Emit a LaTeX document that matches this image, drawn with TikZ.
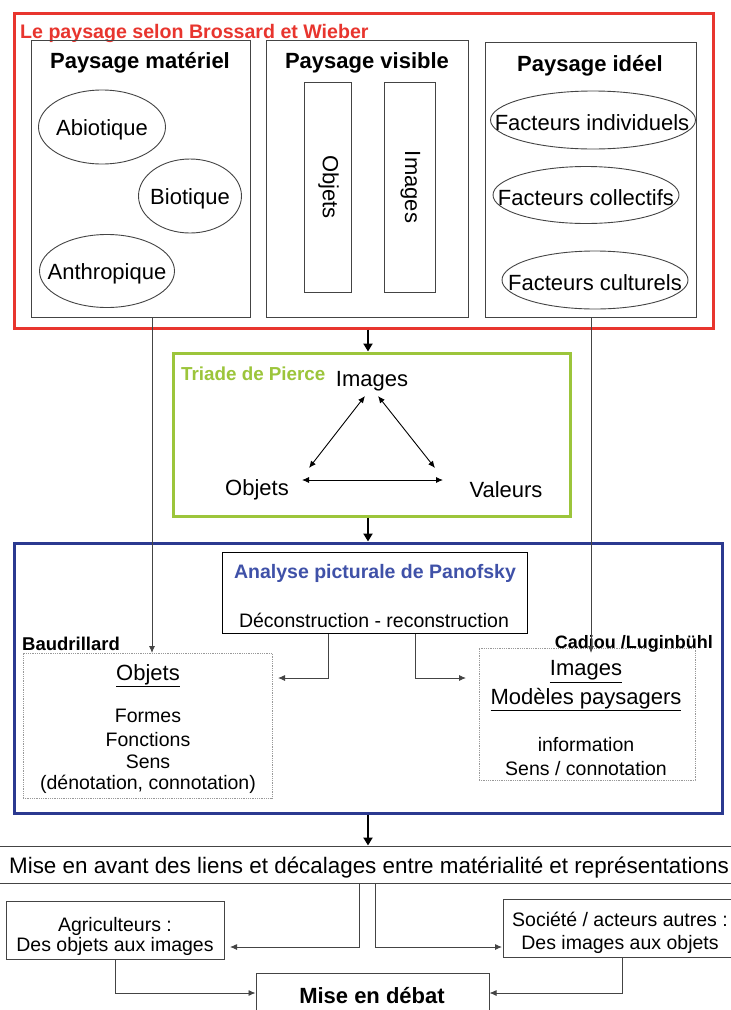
\documentclass[tikz,border=0pt]{standalone}
\usepackage{fontspec}
\setmainfont{Liberation Sans}
\usetikzlibrary{shapes.geometric,arrows.meta}
\definecolor{cred}{HTML}{E8352E}
\definecolor{cgreen}{HTML}{9CC53B}
\definecolor{cblue}{HTML}{2B3990}
\definecolor{ptitle}{HTML}{3F51A8}
\definecolor{cline}{HTML}{444444}
\tikzset{
  fbig/.style={font=\fontsize{22}{24}\selectfont},
  fmid/.style={font=\fontsize{19.5}{22}\selectfont},
  fbold/.style={font=\bfseries\fontsize{22}{24}\selectfont},
  fboldsm/.style={font=\bfseries\fontsize{18.5}{21}\selectfont},
  inbox/.style={draw=cline, line width=1pt, inner sep=0pt},
  ell/.style={ellipse, draw=cline, line width=0.9pt, inner sep=0pt, outer sep=0pt},
  dotbox/.style={draw=gray!80, densely dotted, line width=0.8pt, inner sep=0pt},
  thinarrow/.style={draw=cline, line width=0.9pt, -{Latex[length=7pt,width=6pt]}},
  dblarrow/.style={draw=black, line width=0.9pt, {Latex[length=7pt,width=6pt]}-{Latex[length=7pt,width=6pt]}},
  thickarrow/.style={draw=black, line width=2.6pt, -{Triangle[length=8pt,width=9pt]}},
  txt/.style={inner sep=0pt, text=black, yshift=-2.5pt},
  rtxt/.style={inner sep=0pt, text=black}
}
\begin{document}
\begin{tikzpicture}[x=1pt,y=-1pt]
\useasboundingbox (0,0) rectangle (731,1010);
\clip (0,0) rectangle (731,1010);
\fill[white] (0,0) rectangle (731,1010);

% ---------- Red section ----------
\node[draw=cred, line width=3pt, minimum width=699pt, minimum height=315pt, inner sep=0pt] (red) at (363.5,170.5) {};
\node[txt, anchor=west, font=\bfseries\fontsize{19.6}{22}\selectfont, text=cred] (redtitle) at (20,31) {Le paysage selon Brossard et Wieber};

\node[inbox, minimum width=219pt, minimum height=277pt] (mat) at (140.5,178.5) {};
\node[inbox, minimum width=202pt, minimum height=277pt] (vis) at (367,178.5) {};
\node[inbox, minimum width=211pt, minimum height=275pt] (ide) at (590.5,179.5) {};

\node[txt, fbold] (matt) at (140,60) {Paysage matériel};
\node[txt, fbold] (vist) at (367,60) {Paysage visible};
\node[txt, fbold] (idet) at (590,63) {Paysage idéel};

\node[ell, minimum width=127pt, minimum height=74pt] (abio) at (102,127) {};
\node[ell, minimum width=103pt, minimum height=74pt] (bio) at (190,196) {};
\node[ell, minimum width=135pt, minimum height=73pt] (anth) at (107,271) {};
\node[txt, fbig] (abiot) at (abio) {Abiotique};
\node[txt, fbig] (biot) at (bio) {Biotique};
\node[txt, fbig] (antht) at (anth) {Anthropique};

\node[inbox, minimum width=47pt, minimum height=210pt] (obr) at (327.5,187) {};
\node[inbox, minimum width=51pt, minimum height=210pt] (imr) at (409.5,187) {};
\node[rtxt, fbig, rotate=-90] (obt) at (328.5,187) {Objets};
\node[rtxt, fbig, rotate=-90] (imt) at (410.5,187) {Images};

\node[ell, minimum width=205pt, minimum height=58pt] (find) at (593,120) {};
\node[ell, minimum width=186pt, minimum height=57pt] (fcol) at (586,195) {};
\node[ell, minimum width=186pt, minimum height=58pt] (fcul) at (595,280) {};
\node[txt, fbig] (findt) at (592,120) {Facteurs individuels};
\node[txt, fbig] (fcolt) at (586,195) {Facteurs collectifs};
\node[txt, fbig] (fcult) at (595,280) {Facteurs culturels};

% ---------- Green section ----------
\node[draw=cgreen, line width=3pt, minimum width=397pt, minimum height=163pt, inner sep=0pt] (green) at (371.5,434.5) {};
\node[txt, anchor=west, font=\bfseries\fontsize{18.8}{21}\selectfont, text=cgreen] (gtitle) at (181,371) {Triade de Pierce};
\node[txt, fbig] (timg) at (372,379) {Images};
\node[txt, fbig] (tobj) at (257,487) {Objets};
\node[txt, fbig] (tval) at (506,487) {Valeurs};
\coordinate (a1) at (365,396); \coordinate (a2) at (309,468);
\coordinate (b1) at (378,396); \coordinate (b2) at (435,468);
\coordinate (c1) at (302,480); \coordinate (c2) at (443,480);
\draw[dblarrow] (a1) -- (a2);
\draw[dblarrow] (b1) -- (b2);
\draw[dblarrow] (c1) -- (c2);

% ---------- Blue section ----------
\node[draw=cblue, line width=3pt, minimum width=708pt, minimum height=270pt, inner sep=0pt] (blue) at (368,678) {};
\node[draw=black, line width=1pt, fill=white, minimum width=305pt, minimum height=81pt, inner sep=0pt] (pan) at (374.5,592.5) {};
\node[txt, font=\bfseries\fontsize{19.5}{22}\selectfont, text=ptitle] (pant) at (375,571) {Analyse picturale de Panofsky};
\node[txt, fmid] (pans) at (374,618) {Déconstruction - reconstruction};

\node[txt, fboldsm, anchor=west] (baud) at (22,641) {Baudrillard};
\node[dotbox, minimum width=249pt, minimum height=145pt] (objbox) at (147.5,725.5) {};
\node[txt, fbig] (o1) at (148,673) {\underline{Objets}};
\node[txt, fmid] (o2) at (148,713) {Formes};
\node[txt, fmid] (o3) at (148,737) {Fonctions};
\node[txt, fmid] (o4) at (148,759) {Sens};
\node[txt, fmid] (o5) at (148,782) {(dénotation, connotation)};

\node[dotbox, minimum width=216pt, minimum height=132pt] (imgbox) at (587,714) {};
\node[txt, font=\bfseries\fontsize{18}{21}\selectfont, anchor=east] (cad) at (713,641) {Cadiou /Luginbühl};
\node[txt, fbig] (i1) at (586,669) {\underline{Images}};
\node[txt, fbig] (i2) at (586,697) {\underline{Modèles paysagers}};
\node[txt, fmid] (i3) at (586,742) {information};
\node[txt, fmid] (i4) at (586,766) {Sens / connotation};

% ---------- Bottom ----------
\node[draw=cline, line width=1pt, minimum width=740pt, minimum height=37pt, inner sep=0pt] (mise) at (367,864.5) {};
\node[txt, font=\fontsize{22.4}{24}\selectfont] (miset) at (369,865) {Mise en avant des liens et décalages entre matérialité et représentations};
\node[inbox, minimum width=218pt, minimum height=58pt] (agri) at (115,930) {};
\node[txt, fmid] (agri1) at (115,924) {Agriculteurs :};
\node[txt, fmid] (agri2) at (115,944) {Des objets aux images};
\node[inbox, minimum width=234pt, minimum height=58pt] (soc) at (620,928) {};
\node[txt, fmid] (soc1) at (620,917) {Société / acteurs autres :};
\node[txt, fmid] (soc2) at (620,942) {Des images aux objets};
\node[inbox, minimum width=233pt, minimum height=60pt] (deb) at (372.5,1003) {};
\node[txt, fbold] (debt) at (372,993) {Mise en débat};

% ---------- Connectors ----------
\draw[thickarrow] (red.south -| 368,0) -- (green.north -| 368,0);
\draw[thickarrow] (green.south -| 368,0) -- (blue.north -| 368,0);
\draw[thickarrow] (blue.south -| 368,0) -- (mise.north -| 368,0);

\draw[thinarrow] (mat.south -| 152,0) -- (152,653);
\draw[thinarrow] (ide.south -| 591,0) -- (591,653);

\draw[thinarrow] (pan.south -| 328,0) |- (278,678);
\draw[thinarrow] (pan.south -| 415,0) |- (466,678);

\draw[thinarrow] (mise.south -| 359,0) |- (230,947);
\draw[thinarrow] (mise.south -| 375,0) |- (502,947);
\draw[thinarrow] (agri.south -| 115,0) |- (deb.west |- 0,993);
\draw[thinarrow] (soc.south -| 622,0) |- (deb.east |- 0,993);
\end{tikzpicture}
\end{document}
